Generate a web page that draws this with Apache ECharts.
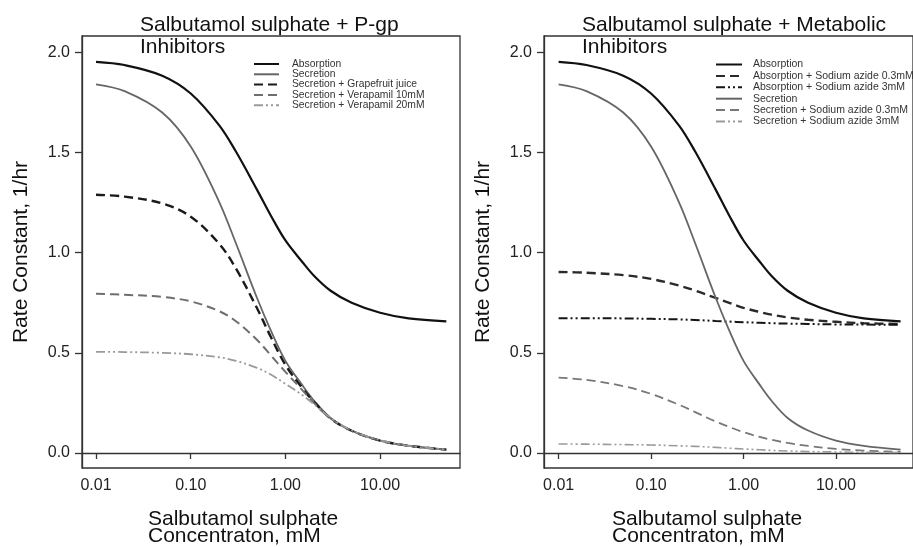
<!DOCTYPE html>
<html>
<head>
<meta charset="utf-8">
<script src="https://cdn.jsdelivr.net/npm/echarts@6/dist/echarts.min.js"></script>
<style>
html,body{margin:0;padding:0;background:#fff;}
#chart{width:913px;height:547px;}
</style>
</head>
<body>
<div id="chart"></div>
<script>
// ---- data ----
const conc = [0.01,0.02,0.05,0.1,0.2,0.3,0.5,0.7,1,1.5,2,3,5,10,20,50];
const xTickValues = [0.01,0.1,1,10];
const yTickValues = [0,0.5,1,1.5,2];

// Left panel: P-gp inhibitors
const absorption   = [1.953,1.937,1.884,1.795,1.636,1.505,1.315,1.186,1.061,0.955,0.885,0.810,0.750,0.700,0.672,0.657];
const secretion    = [1.841,1.807,1.700,1.530,1.253,1.047,0.775,0.612,0.460,0.340,0.262,0.175,0.112,0.062,0.036,0.017];
const secGrapefruit= [1.289,1.280,1.246,1.180,1.044,0.921,0.724,0.580,0.440,0.325,0.255,0.172,0.111,0.062,0.036,0.017];
const secVera10    = [0.795,0.790,0.779,0.757,0.708,0.658,0.565,0.488,0.405,0.315,0.250,0.172,0.111,0.062,0.036,0.017];
const secVera20    = [0.505,0.504,0.500,0.493,0.478,0.460,0.425,0.392,0.345,0.290,0.243,0.175,0.113,0.063,0.036,0.017];

// Right panel: metabolic inhibitors
const absSA03 = [0.904,0.900,0.888,0.869,0.836,0.811,0.774,0.750,0.725,0.704,0.691,0.677,0.665,0.655,0.648,0.644];
const absSA3  = [0.673,0.673,0.672,0.670,0.667,0.664,0.659,0.656,0.653,0.650,0.648,0.646,0.644,0.642,0.641,0.640];
const secSA03 = [0.376,0.365,0.334,0.295,0.241,0.204,0.157,0.130,0.104,0.080,0.066,0.050,0.035,0.020,0.012,0.006];
const secSA3  = [0.045,0.044,0.042,0.040,0.036,0.033,0.028,0.024,0.020,0.016,0.013,0.010,0.007,0.005,0.003,0.002];

const leftNames  = ['Absorption','Secretion','Secretion + Grapefruit juice','Secretion + Verapamil 10mM','Secretion + Verapamil 20mM'];
const rightNames = ['Absorption','Absorption + Sodium azide 0.3mM','Absorption + Sodium azide 3mM','Secretion','Secretion + Sodium azide 0.3mM','Secretion + Sodium azide 3mM'];

// ---- styles ----
const FONT = '"Liberation Sans", Arial, Helvetica, sans-serif';
const DASH = [9,5];
const DASHDOT = [9,3,2,3,2,3];
const S = {
  abs:   {color:'#111', width:2.2, type:'solid'},
  sec:   {color:'#666', width:1.8, type:'solid'},
  grape: {color:'#1a1a1a', width:2.4, type:DASH},
  v10:   {color:'#6e6e6e', width:2, type:DASH},
  v20:   {color:'#9a9a9a', width:1.8, type:DASHDOT},
  aSA03: {color:'#2a2a2a', width:2.4, type:DASH},
  aSA3:  {color:'#151515', width:2, type:DASHDOT},
  sSA03: {color:'#777', width:1.8, type:DASH},
  sSA3:  {color:'#9a9a9a', width:1.6, type:DASHDOT}
};

function mk(name, arr, st, idx){
  return {
    name, type:'line', xAxisIndex:idx, yAxisIndex:idx,
    data: conc.map((c,i)=>[c, arr[i]]),
    smooth: 0.35, symbol:'none', showSymbol:false,
    lineStyle:{color:st.color, width:st.width, type:st.type},
    itemStyle:{color:st.color},
    emphasis:{disabled:true}, animation:false
  };
}

function xAxisDef(idx, min, max){
  return {
    type:'log', gridIndex:idx, min, max, logBase:10,
    axisLine:{show:true, lineStyle:{color:'#333', width:1.3}},
    axisTick:{show:true, length:6, inside:false, customValues:xTickValues, lineStyle:{color:'#333', width:1.3}},
    axisLabel:{customValues:xTickValues, fontFamily:FONT, fontSize:16, color:'#222', margin:10,
      formatter:(v)=>Number(v).toFixed(2)},
    splitLine:{show:false}, minorTick:{show:false}
  };
}
function yAxisDef(idx){
  return {
    type:'value', gridIndex:idx, min:-0.075, max:2.082,
    name:'Rate Constant, 1/hr', nameLocation:'middle', nameGap:50, nameRotate:90,
    nameTextStyle:{fontFamily:FONT, fontSize:21, color:'#111'},
    axisLine:{show:true, lineStyle:{color:'#333', width:1.3}},
    axisTick:{show:true, length:7, inside:false, customValues:yTickValues, lineStyle:{color:'#333', width:1.3}},
    axisLabel:{customValues:yTickValues, fontFamily:FONT, fontSize:16, color:'#222', margin:12,
      formatter:(v)=>Number(v).toFixed(1)},
    splitLine:{show:false}
  };
}

const titleStyle = {fontFamily:FONT, fontSize:21, fontWeight:'normal', color:'#111', lineHeight:22};
const nameStyle  = {fontFamily:FONT, fontSize:21, fontWeight:'normal', color:'#111', lineHeight:17};

const option = {
  animation:false,
  backgroundColor:'#fff',
  title:[
    {text:'Salbutamol sulphate + P-gp\nInhibitors', left:140, top:14, padding:0, textStyle:titleStyle},
    {text:'Salbutamol sulphate + Metabolic\nInhibitors', left:582, top:14, padding:0, textStyle:titleStyle},
    {text:'Salbutamol sulphate\nConcentraton, mM', left:148, top:511, padding:0, textStyle:nameStyle},
    {text:'Salbutamol sulphate\nConcentraton, mM', left:612, top:511, padding:0, textStyle:nameStyle}
  ],
  grid:[
    {left:82, top:36, width:378, height:432, show:true, borderColor:'#333', borderWidth:1.3, backgroundColor:'transparent'},
    {left:544, top:36, width:378, height:432, show:true, borderColor:'#333', borderWidth:1.3, backgroundColor:'transparent'}
  ],
  xAxis:[ xAxisDef(0, 0.00711, 69.7), xAxisDef(1, 0.00695, 68.1) ],
  yAxis:[ yAxisDef(0), yAxisDef(1) ],
  legend:[
    {data:leftNames, orient:'vertical', left:253, top:59, padding:0, itemWidth:25, itemHeight:10, itemGap:0.3,
     selectedMode:false, itemStyle:{opacity:0},
     textStyle:{fontFamily:FONT, fontSize:10.3, color:'#333', lineHeight:10, padding:[0,0,0,8]}},
    {data:rightNames, orient:'vertical', left:715, top:59, padding:0, itemWidth:26, itemHeight:10, itemGap:0.4,
     selectedMode:false, itemStyle:{opacity:0},
     textStyle:{fontFamily:FONT, fontSize:10.5, color:'#333', lineHeight:10, padding:[0,0,0,6]}}
  ],
  series:[
    mk('Absorption', absorption, S.abs, 0),
    mk('Secretion', secretion, S.sec, 0),
    mk('Secretion + Grapefruit juice', secGrapefruit, S.grape, 0),
    mk('Secretion + Verapamil 10mM', secVera10, S.v10, 0),
    mk('Secretion + Verapamil 20mM', secVera20, S.v20, 0),
    mk('Absorption', absorption, S.abs, 1),
    mk('Absorption + Sodium azide 0.3mM', absSA03, S.aSA03, 1),
    mk('Absorption + Sodium azide 3mM', absSA3, S.aSA3, 1),
    mk('Secretion', secretion, S.sec, 1),
    mk('Secretion + Sodium azide 0.3mM', secSA03, S.sSA03, 1),
    mk('Secretion + Sodium azide 3mM', secSA3, S.sSA3, 1)
  ]
};
const chart = echarts.init(document.getElementById('chart'), null, {renderer:'canvas'});
chart.setOption(option);
</script>
</body>
</html>
